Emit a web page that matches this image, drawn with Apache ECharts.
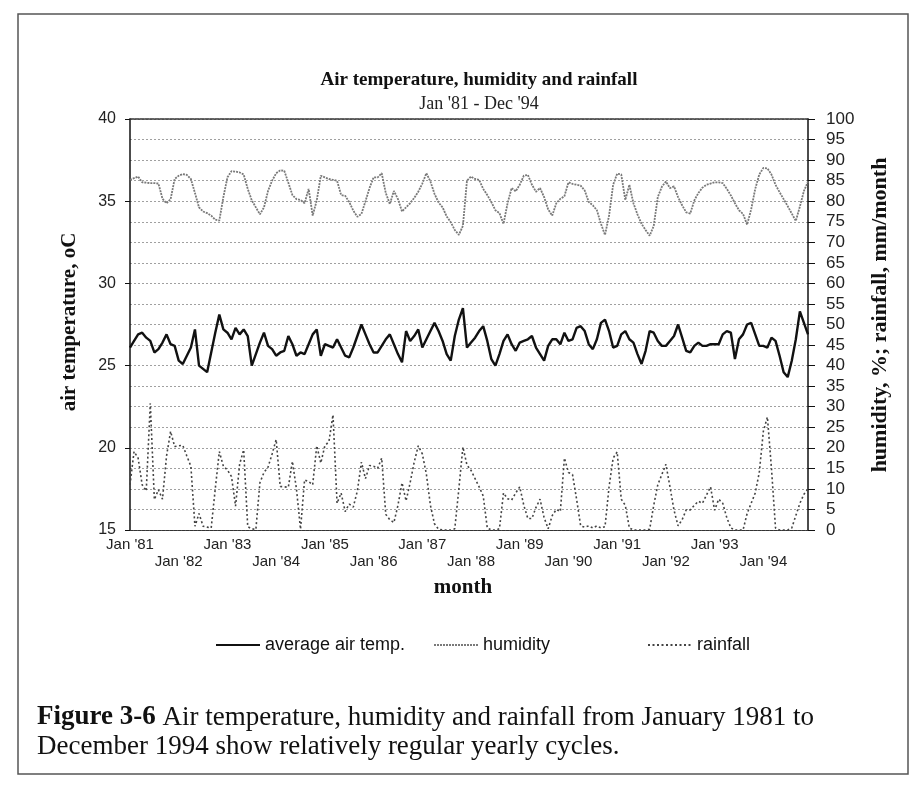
<!DOCTYPE html>
<html>
<head>
<meta charset="utf-8">
<script src="https://cdn.jsdelivr.net/npm/echarts@6/dist/echarts.min.js"></script>
<style>
html,body{margin:0;padding:0;background:#ffffff;}
#chart{width:921px;height:796px;}
</style>
</head>
<body>
<div id="chart"></div>
<script>
// ---- data ----
const years = ['81','82','83','84','85','86','87','88','89','90','91','92','93','94'];
const monthNames = ['Jan','Feb','Mar','Apr','May','Jun','Jul','Aug','Sep','Oct','Nov','Dec'];

// average air temperature, deg C (left axis)
const airTemp = [
  26.1, 26.5, 26.9, 27.0, 26.7, 26.5, 25.8, 26.0, 26.4, 26.9, 26.3, 26.2,
  25.3, 25.1, 25.6, 26.1, 27.2, 25.0, 24.8, 24.6, 25.8, 27.0, 28.1, 27.2,
  27.0, 26.6, 27.3, 26.9, 27.2, 26.8, 25.0, 25.7, 26.4, 27.0, 26.2, 26.0,
  25.6, 25.8, 25.9, 26.8, 26.3, 25.6, 25.8, 25.7, 26.3, 26.9, 27.2, 25.6,
  26.3, 26.2, 26.1, 26.6, 26.1, 25.6, 25.5, 26.1, 26.8, 27.5, 26.9, 26.3,
  25.8, 25.8, 26.2, 26.6, 26.9, 26.3, 25.7, 25.2, 27.1, 26.5, 26.8, 27.2,
  26.1, 26.6, 27.1, 27.6, 27.1, 26.5, 25.7, 25.3, 26.8, 27.8, 28.5, 26.1,
  26.4, 26.7, 27.1, 27.4, 26.5, 25.4, 25.0, 25.7, 26.5, 26.9, 26.3, 25.9,
  26.4, 26.5, 26.6, 26.8, 26.1, 25.7, 25.3, 26.2, 26.6, 26.6, 26.3, 27.0,
  26.5, 26.6, 27.3, 27.4, 27.1, 26.3, 26.0, 26.6, 27.6, 27.8, 27.1, 26.1,
  26.2, 26.9, 27.1, 26.6, 26.4, 25.7, 25.1, 25.9, 27.1, 27.0, 26.5, 26.2,
  26.2, 26.5, 26.8, 27.5, 26.7, 25.9, 25.8, 26.2, 26.4, 26.2, 26.2, 26.3,
  26.3, 26.3, 26.9, 27.1, 27.0, 25.4, 26.6, 26.9, 27.5, 27.6, 26.9, 26.2,
  26.2, 26.1, 26.7, 26.5, 25.6, 24.6, 24.3, 25.3, 26.6, 28.3, 27.6, 26.9
];

// humidity, % (right axis)
const humidity = [
  85.2, 85.6, 86.0, 84.6, 84.5, 84.4, 84.4, 84.3, 80.6, 79.5, 80.5, 85.4,
  86.2, 86.6, 86.4, 85.4, 82.0, 78.5, 77.5, 77.1, 76.5, 75.5, 75.3, 81.0,
  85.8, 87.3, 87.2, 87.0, 86.5, 83.0, 80.2, 78.5, 76.8, 78.5, 82.5, 85.0,
  86.8, 87.5, 87.4, 84.5, 81.5, 80.5, 80.3, 79.5, 83.0, 76.5, 80.2, 86.2,
  85.8, 85.4, 85.2, 85.0, 81.5, 81.3, 79.8, 77.7, 76.2, 76.9, 80.0, 83.2,
  85.8, 85.8, 86.8, 82.0, 79.3, 82.5, 80.5, 77.5, 78.5, 79.5, 80.8, 82.3,
  84.3, 86.8, 84.8, 81.8, 79.7, 78.5, 76.3, 74.9, 73.0, 71.8, 74.0, 85.0,
  86.0, 85.4, 85.2, 83.0, 81.5, 79.8, 77.8, 77.1, 74.5, 79.5, 83.2, 82.4,
  84.0, 86.2, 86.4, 84.0, 82.3, 83.2, 81.0, 78.0, 76.5, 79.5, 80.6, 81.2,
  84.6, 84.2, 84.0, 83.8, 82.6, 79.8, 79.0, 77.8, 74.5, 71.8, 76.5, 84.0,
  86.7, 86.5, 80.3, 84.0, 79.5, 76.8, 74.5, 73.0, 71.6, 74.0, 81.0, 83.5,
  84.8, 83.2, 83.6, 81.0, 79.0, 77.3, 77.0, 80.2, 82.0, 83.3, 84.0, 84.3,
  84.6, 84.6, 84.4, 83.0, 81.4, 79.5, 77.8, 76.9, 74.3, 78.0, 83.0, 86.5,
  88.1, 88.0, 86.5, 84.0, 82.2, 80.5, 78.8, 77.0, 75.2, 78.7, 82.5, 84.8
];

// rainfall, mm/month (right axis)
const rainfall = [
  11.0, 19.1, 17.5, 11.0, 9.5, 30.8, 7.4, 9.8, 7.5, 18.0, 24.0, 20.3,
  20.5, 20.6, 18.0, 15.5, 0.9, 4.0, 0.9, 0.7, 0.5, 10.0, 19.1, 15.5,
  14.6, 13.0, 5.8, 16.0, 19.5, 0.8, 0.3, 0.1, 11.5, 14.0, 15.3, 18.5,
  22.0, 10.6, 10.5, 10.4, 16.7, 10.0, 0.2, 12.2, 11.8, 11.0, 20.5, 16.3,
  20.5, 21.5, 28.0, 6.5, 9.0, 4.5, 6.3, 5.6, 9.5, 16.5, 12.5, 15.7,
  15.5, 15.0, 17.5, 3.8, 2.5, 1.8, 6.0, 11.5, 7.1, 11.5, 16.5, 20.5,
  18.5, 13.6, 6.0, 1.5, 0.2, 0, 0, 0, 0.3, 10.0, 20.2, 15.8,
  14.5, 12.5, 10.5, 8.3, 0.5, 0, 0, 0.3, 9.0, 7.6, 7.3, 9.0,
  10.5, 6.0, 2.8, 2.8, 5.5, 7.5, 3.0, 0.3, 3.5, 5.0, 4.5, 17.5,
  14.0, 13.5, 7.5, 1.0, 0.7, 1.0, 0.5, 1.0, 0.5, 0.8, 10.5, 17.5,
  19.0, 7.5, 6.0, 0.5, 0, 0, 0, 0, 0.2, 6.0, 11.0, 13.5,
  16.0, 10.5, 4.8, 1.0, 2.5, 4.9, 4.9, 6.0, 7.0, 6.5, 8.5, 10.5,
  4.8, 7.5, 6.5, 3.0, 0.5, 0, 0, 0, 4.0, 6.5, 9.0, 14.0,
  24.0, 27.5, 15.0, 0.5, 0, 0, 0, 0.5, 3.5, 6.5, 8.7, 10.0
];

const seriesNames = ['average air temp.', 'humidity', 'rainfall'];
const titleText = 'Air temperature, humidity and rainfall';
const subtitleText = "Jan '81 - Dec '94";
const leftAxisName = 'air temperature, oC';
const rightAxisName = 'humidity, %; rainfall, mm/month';
const xAxisName = 'month';
const captionBold = 'Figure 3-6';
const captionRest = ' Air temperature, humidity and rainfall from January 1981 to\nDecember 1994 show relatively regular yearly cycles.';

// month categories built from years and month names
const months = [];
years.forEach(y => monthNames.forEach(m => months.push(m + " '" + y)));

const SANS = "'Liberation Sans', Arial, sans-serif";
const SERIF = "'Liberation Serif', 'Times New Roman', serif";

const chart = echarts.init(document.getElementById('chart'), null, {renderer: 'canvas'});

const legendCommon = {
  itemWidth: 44, itemHeight: 14, top: 631,
  itemStyle: {opacity: 0},
  textStyle: {fontFamily: SANS, fontSize: 18, color: '#111'}
};

chart.setOption({
  backgroundColor: '#ffffff',
  animation: false,
  title: {
    text: titleText,
    subtext: subtitleText,
    left: 474,
    textAlign: 'center',
    top: 66,
    itemGap: 5,
    textStyle: {fontFamily: SERIF, fontWeight: 'bold', fontSize: 19, color: '#111'},
    subtextStyle: {fontFamily: SERIF, fontSize: 18, color: '#222'}
  },
  grid: {left: 130, right: 113, top: 119, bottom: 266, containLabel: false},
  legend: [
    Object.assign({data: [seriesNames[0]], left: 210}, legendCommon),
    Object.assign({data: [seriesNames[1]], left: 428}, legendCommon),
    Object.assign({data: [seriesNames[2]], left: 642}, legendCommon)
  ],
  xAxis: [
    {
      type: 'category',
      data: months,
      boundaryGap: false,
      axisLine: {show: true, lineStyle: {color: '#333', width: 1.2, type: [3, 1]}},
      axisTick: {show: false},
      axisLabel: {
        interval: 11,
        fontFamily: SANS,
        fontSize: 15,
        color: '#222',
        margin: 6,
        lineHeight: 17,
        formatter: function (v, i) {
          return (Math.round(i / 12) % 2 === 1) ? '\n' + v : v;
        }
      },
      splitLine: {show: false}
    },
    {
      type: 'category',
      data: months,
      position: 'top',
      boundaryGap: false,
      axisLine: {show: true, lineStyle: {color: '#333', width: 1.5, type: [4, 1]}},
      axisTick: {show: false},
      axisLabel: {show: false},
      splitLine: {show: false}
    }
  ],
  yAxis: [
    {
      type: 'value',
      position: 'left',
      min: 15, max: 40, interval: 5,
      axisLine: {show: true, lineStyle: {color: '#111', width: 1.5}},
      axisTick: {show: true, length: 5, lineStyle: {color: '#111'}},
      axisLabel: {fontFamily: SANS, fontSize: 16, color: '#222', margin: 14},
      splitLine: {show: false}
    },
    {
      type: 'value',
      position: 'right',
      min: 0, max: 100, interval: 5,
      axisLine: {show: true, lineStyle: {color: '#111', width: 1.5}},
      axisTick: {show: true, length: 7, lineStyle: {color: '#111'}},
      axisLabel: {fontFamily: SANS, fontSize: 17, color: '#222', margin: 18},
      splitLine: {show: true, lineStyle: {color: '#a0a0a0', width: 1, type: [2, 2]}}
    }
  ],
  series: [
    {
      name: seriesNames[0], type: 'line', yAxisIndex: 0, data: airTemp,
      symbol: 'none', lineStyle: {color: '#111', width: 2.4}, itemStyle: {color: '#111'}, z: 5
    },
    {
      name: seriesNames[1], type: 'line', yAxisIndex: 1, data: humidity,
      symbol: 'none', lineStyle: {color: '#7a7a7a', width: 1.8, type: [2, 1]}, itemStyle: {color: '#7a7a7a'}, z: 4
    },
    {
      name: seriesNames[2], type: 'line', yAxisIndex: 1, data: rainfall,
      symbol: 'none', lineStyle: {color: '#444', width: 1.6, type: [2, 2.5]}, itemStyle: {color: '#444'}, z: 3
    }
  ],
  graphic: [
    {type: 'rect', shape: {x: 18, y: 14, width: 890, height: 760},
     style: {fill: 'none', stroke: '#555', lineWidth: 1.5}, silent: true, z: -1},
    {type: 'text', x: 70, y: 322, rotation: Math.PI / 2,
     style: {text: leftAxisName, font: 'bold 21px ' + SERIF, fill: '#111', textAlign: 'center', textVerticalAlign: 'middle'}},
    {type: 'text', x: 880, y: 315, rotation: Math.PI / 2,
     style: {text: rightAxisName, font: 'bold 22px ' + SERIF, fill: '#111', textAlign: 'center', textVerticalAlign: 'middle'}},
    {type: 'text', x: 463, y: 588,
     style: {text: xAxisName, font: 'bold 21px ' + SERIF, fill: '#111', textAlign: 'center', textVerticalAlign: 'middle'}},
    {type: 'text', x: 37, y: 703,
     style: {
       text: '{b|' + captionBold + '}' + captionRest,
       font: '27px ' + SERIF, fill: '#111', lineHeight: 29,
       rich: {b: {fontWeight: 'bold', fontFamily: SERIF, fontSize: 27, fill: '#111'}}
     }}
  ]
});
</script>
</body>
</html>
